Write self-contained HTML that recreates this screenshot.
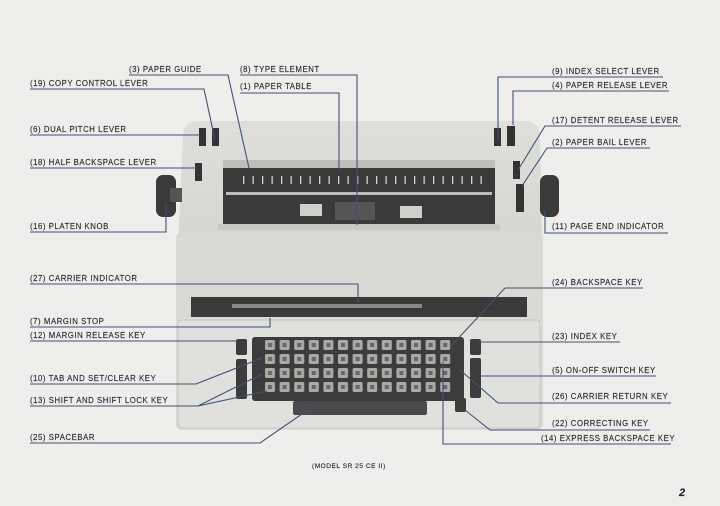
<!DOCTYPE html>
<html><head><meta charset="utf-8"><style>
html,body{margin:0;padding:0;background:#eeeeec;}
svg{display:block}
text{font-family:"Liberation Sans",sans-serif;font-size:7.8px;fill:#2e2e33;letter-spacing:0.55px;stroke:#2e2e33;stroke-width:0.15px}
.l{stroke:#3f5277;stroke-width:1.1;fill:none}
</style></head><body>
<svg width="720" height="506" viewBox="0 0 720 506" xmlns="http://www.w3.org/2000/svg">
<defs>
<pattern id="k1" x="264" y="339" width="14.6" height="14" patternUnits="userSpaceOnUse"><rect x="1" y="1" width="10" height="10" rx="1.5" fill="#a9a9a5"/><rect x="4" y="4" width="4" height="4" fill="#666"/></pattern>
<pattern id="tick" x="240" y="174" width="9.5" height="14" patternUnits="userSpaceOnUse"><rect x="3" y="2" width="1.3" height="8" fill="#d0d0cc"/></pattern>
<linearGradient id="body" x1="0" y1="0" x2="0" y2="1"><stop offset="0" stop-color="#dededa"/><stop offset="1" stop-color="#d2d2ce"/></linearGradient>
</defs>
<rect width="720" height="506" fill="#eeeeec"/>
<path d="M183,135 Q184,121 198,121 L525,121 Q538,121 540,135 L543,290 L176,290 Z" fill="url(#body)"/>
<rect x="223" y="166" width="272" height="58" fill="#3a3a3a"/>
<rect x="223" y="160" width="272" height="8" fill="#bdbdb9"/>
<rect x="240" y="174" width="250" height="14" fill="url(#tick)"/>
<rect x="226" y="192" width="266" height="3" fill="#bcbcb8"/>
<rect x="300" y="204" width="22" height="12" fill="#cfcfcc"/>
<rect x="335" y="202" width="40" height="18" fill="#555"/>
<rect x="400" y="206" width="22" height="12" fill="#cfcfcc"/>
<rect x="218" y="224" width="282" height="6" fill="#c8c8c4"/>
<rect x="199" y="128" width="7" height="18" fill="#333"/>
<rect x="212" y="128" width="7" height="18" fill="#333"/>
<rect x="195" y="163" width="7" height="18" fill="#333"/>
<rect x="494" y="128" width="7" height="18" fill="#333"/>
<rect x="507" y="126" width="8" height="20" fill="#333"/>
<rect x="513" y="161" width="7" height="18" fill="#333"/>
<rect x="516" y="184" width="8" height="28" fill="#333"/>
<rect x="156" y="175" width="20" height="42" rx="7" fill="#3a3a3a"/>
<rect x="170" y="188" width="12" height="14" fill="#555"/>
<rect x="540" y="175" width="19" height="42" rx="7" fill="#3a3a3a"/>
<rect x="176" y="232" width="367" height="198" rx="6" fill="#d9d9d5"/>
<rect x="191" y="297" width="336" height="20" fill="#3a3a3a"/>
<rect x="232" y="304" width="190" height="4" fill="#888"/>
<rect x="178" y="320" width="362" height="108" rx="4" fill="#e0e0dc" stroke="#c6c6c2"/>
<rect x="252" y="337" width="212" height="64" rx="3" fill="#3c3c3c"/>
<rect x="264" y="339" width="190" height="56" fill="url(#k1)"/>
<rect x="293" y="401" width="134" height="14" rx="2" fill="#4a4a4a"/>
<rect x="236" y="339" width="11" height="16" rx="2" fill="#3c3c3c"/>
<rect x="236" y="359" width="11" height="40" rx="2" fill="#3c3c3c"/>
<rect x="470" y="339" width="11" height="16" rx="2" fill="#3c3c3c"/>
<rect x="470" y="358" width="11" height="40" rx="2" fill="#3c3c3c"/>
<rect x="455" y="398" width="11" height="14" rx="2" fill="#3c3c3c"/>
<text x="129" y="72">(3) PAPER GUIDE</text>
<path class="l" d="M129,75 H228 L249,168"/>
<text x="240" y="72">(8) TYPE ELEMENT</text>
<path class="l" d="M240,75 H357 V225"/>
<text x="30" y="86">(19) COPY CONTROL LEVER</text>
<path class="l" d="M30,89 H204 L215,140"/>
<text x="240" y="89">(1) PAPER TABLE</text>
<path class="l" d="M240,93 H339 V170"/>
<text x="30" y="132">(6) DUAL PITCH LEVER</text>
<path class="l" d="M30,135 H200"/>
<text x="30" y="165">(18) HALF BACKSPACE LEVER</text>
<path class="l" d="M30,168 H197"/>
<text x="30" y="229">(16) PLATEN KNOB</text>
<path class="l" d="M30,232 H166 V205"/>
<text x="30" y="281">(27) CARRIER INDICATOR</text>
<path class="l" d="M30,284 H358 V303"/>
<text x="30" y="324">(7) MARGIN STOP</text>
<path class="l" d="M30,327 H270 V318"/>
<text x="30" y="338">(12) MARGIN RELEASE KEY</text>
<path class="l" d="M30,341 H237"/>
<text x="30" y="381">(10) TAB AND SET/CLEAR KEY</text>
<path class="l" d="M30,384 H196 L262,358"/>
<text x="30" y="403">(13) SHIFT AND SHIFT LOCK KEY</text>
<path class="l" d="M30,406 H198 L262,374 M198,406 L267,391"/>
<text x="30" y="440">(25) SPACEBAR</text>
<path class="l" d="M30,443 H260 L315,405"/>
<text x="552" y="74">(9) INDEX SELECT LEVER</text>
<path class="l" d="M498,140 V77 H663"/>
<text x="552" y="88">(4) PAPER RELEASE LEVER</text>
<path class="l" d="M513,125 V91 H669"/>
<text x="552" y="123">(17) DETENT RELEASE LEVER</text>
<path class="l" d="M518,170 L545,126 H681"/>
<text x="552" y="145">(2) PAPER BAIL LEVER</text>
<path class="l" d="M522,186 L547,148 H650"/>
<text x="552" y="229">(11) PAGE END INDICATOR</text>
<path class="l" d="M545,210 V233 H668"/>
<text x="552" y="285">(24) BACKSPACE KEY</text>
<path class="l" d="M452,345 L505,288 H643"/>
<text x="552" y="339">(23) INDEX KEY</text>
<path class="l" d="M478,342 H620"/>
<text x="552" y="373">(5) ON-OFF SWITCH KEY</text>
<path class="l" d="M480,376 H656"/>
<text x="552" y="399">(26) CARRIER RETURN KEY</text>
<path class="l" d="M460,370 L498,403 H671"/>
<text x="552" y="426">(22) CORRECTING KEY</text>
<path class="l" d="M465,410 L490,430 H650"/>
<text x="541" y="441">(14) EXPRESS BACKSPACE KEY</text>
<path class="l" d="M443,362 V444 H671"/>
<text x="312" y="468" style="font-size:6.5px">(MODEL SR 25 CE  II)</text>
<text x="679" y="496" style="font-size:11px;font-weight:bold;font-style:italic;fill:#222">2</text>
</svg>
</body></html>
